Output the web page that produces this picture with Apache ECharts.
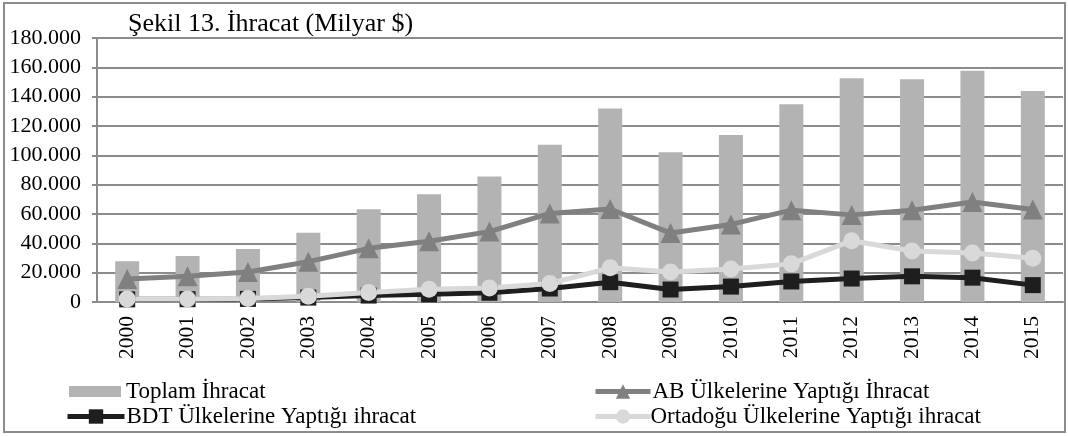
<!DOCTYPE html>
<html>
<head>
<meta charset="utf-8">
<script src="https://cdn.jsdelivr.net/npm/echarts@6/dist/echarts.min.js"></script>
<style>
    html, body { margin: 0; padding: 0; background: #fff; }
    #chart { width: 1068px; height: 436px; }
</style>
</head>
<body>
<div id="chart"></div>
<script>
const years = ['2000', '2001', '2002', '2003', '2004', '2005', '2006', '2007',
    '2008', '2009', '2010', '2011', '2012', '2013', '2014', '2015'];
const toplam = [27800, 31300, 36100, 47300, 63200, 73500, 85500, 107300,
    132000, 102100, 113900, 134900, 152500, 151800, 157600, 143800];
const ab = [15700, 17500, 20500, 27500, 36600, 41400, 48000, 60400,
    63400, 47000, 52900, 62600, 59400, 62500, 68200, 63000];
const bdt = [1800, 1900, 2100, 3000, 4400, 5200, 6300, 9200,
    13500, 8500, 10500, 14000, 16000, 17500, 16600, 11500];
const ortadogu = [2000, 2100, 2400, 4000, 6500, 8700, 9600, 12600,
    23300, 20400, 22500, 26000, 41800, 34800, 33400, 29800];

const names = ['Toplam İhracat', 'AB Ülkelerine Yaptığı İhracat',
    'BDT Ülkelerine Yaptığı ihracat', 'Ortadoğu Ülkelerine Yaptığı ihracat'];

const font = 'Liberation Serif';
const gridColor = '#8c8c8c';

// one legend per entry so each can sit where the original has it
// (legend has a default padding of 5, hence the offsets below)
function legendAt(name, left, top, w, h, pad) {
    return {
        data: [name], left: left, top: top,
        itemWidth: w, itemHeight: h, itemGap: 0,
        lineStyle: { width: 5 },
        textStyle: { fontFamily: font, fontSize: 23, color: '#000', padding: [0, 0, 0, pad] }
    };
}

const barLegend = legendAt(names[0], 64, 375, 52, 11, 0);
barLegend.icon = 'rect';

const chart = echarts.init(document.getElementById('chart'));
chart.setOption({
    animation: false,
    textStyle: { fontFamily: font },
    title: {
        text: 'Şekil 13. İhracat (Milyar $)', left: 123, top: 6,
        textStyle: { fontFamily: font, fontSize: 26, fontWeight: 'normal', color: '#000' }
    },
    graphic: [{
        type: 'rect', shape: { x: 4, y: 3, width: 1061, height: 429 },
        style: { fill: 'none', stroke: '#8c8c8c', lineWidth: 2 }, silent: true
    }],
    legend: [
        barLegend,
        legendAt(names[2], 60, 400, 57, 18, -3),
        legendAt(names[1], 588, 375, 55, 18, -3),
        legendAt(names[3], 588, 400, 55, 18, -5)
    ],
    grid: { left: 97, right: 5, top: 38, bottom: 134 },
    xAxis: {
        type: 'category', data: years,
        axisLine: { lineStyle: { color: gridColor, width: 2 } },
        axisTick: { length: 6, lineStyle: { color: gridColor, width: 2 } },
        axisLabel: { rotate: 90, margin: 14, fontFamily: font, fontSize: 21.5, color: '#000' }
    },
    yAxis: {
        type: 'value', min: 0, max: 180000, interval: 20000,
        axisLine: { show: true, lineStyle: { color: gridColor, width: 2 } },
        axisTick: { show: true, length: 5, lineStyle: { color: gridColor, width: 2 } },
        splitLine: { lineStyle: { color: gridColor, width: 2 } },
        axisLabel: {
            margin: 16, fontFamily: font, fontSize: 22, color: '#000',
            formatter: v => v === 0 ? '0' : (v / 1000) + '.000'
        }
    },
    series: [
        {
            name: names[0], type: 'bar', data: toplam, barWidth: 24,
            itemStyle: { color: '#b3b3b3' }
        },
        {
            name: names[1], type: 'line', data: ab, symbol: 'triangle', symbolSize: 20,
            lineStyle: { color: '#808080', width: 5 }, itemStyle: { color: '#808080' }
        },
        {
            name: names[2], type: 'line', data: bdt, symbol: 'rect', symbolSize: 16,
            lineStyle: { color: '#1e1e1e', width: 5 }, itemStyle: { color: '#1e1e1e' }
        },
        {
            name: names[3], type: 'line', data: ortadogu, symbol: 'circle', symbolSize: 17,
            lineStyle: { color: '#d9d9d9', width: 5 }, itemStyle: { color: '#d9d9d9' }
        }
    ]
});
</script>
</body>
</html>
